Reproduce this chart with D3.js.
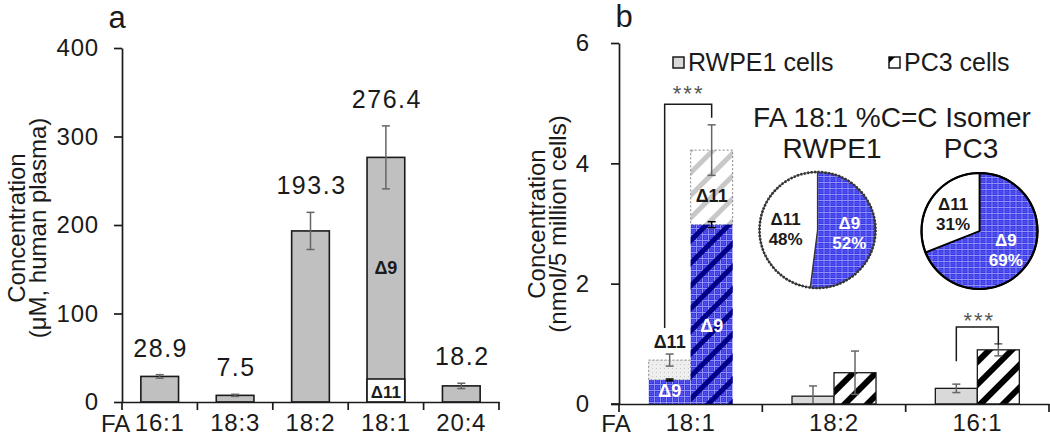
<!DOCTYPE html>
<html><head><meta charset="utf-8">
<script src="https://cdn.jsdelivr.net/npm/d3@7"></script>
<style>
body{margin:0;background:#fff;}
svg{display:block;font-family:"Liberation Sans",Arial,sans-serif;}
</style></head><body>
<svg id="chart" width="1050" height="437"></svg>
<script>
// ---------- data ----------
const plasmaCats = ["16:1", "18:3", "18:2", "18:1", "20:4"];
const plasmaValues = [28.9, 7.5, 193.3, 276.4, 18.2];
const plasmaErrors = [2.0, 1.2, 21.0, 35.6, 3.0];
const plasmaDelta11 = [0, 0, 0, 26, 0];
const plasmaTicks = [0, 100, 200, 300, 400];

const cellCats = ["18:1", "18:2", "16:1"];
const rwpe1Values = [0.73, 0.13, 0.26];
const rwpe1Errors = [0.10, 0.17, 0.07];
const pc3Values = [4.22, 0.52, 0.90];
const pc3Errors = [0.42, 0.36, 0.10];
const rwpe1Delta9 = [0.40, null, null];
const rwpe1Delta9Err = [0.015, null, null];
const pc3Delta9 = [2.98, null, null];
const pc3Delta9Err = [0.05, null, null];
const cellTicks = [0, 2, 4, 6];

const pieGroups = ["RWPE1", "PC3"];
const pieDelta9 = [52, 69];
const pieDelta11 = [48, 31];
const legendLabels = ["RWPE1 cells", "PC3 cells"];

// ---------- setup ----------
const svg = d3.select("#chart");
const ink = "#1a1a1a";
const errCol = "#666";
const defs = svg.append("defs");

function stripePattern(id, color, w, period) {
  const p = defs.append("pattern").attr("id", id).attr("patternUnits", "userSpaceOnUse")
    .attr("width", period).attr("height", period).attr("patternTransform", "rotate(45)");
  p.append("rect").attr("x", 0).attr("y", 0).attr("width", w).attr("height", period).attr("fill", color);
}
const bg = defs.append("pattern").attr("id", "blueGrid").attr("patternUnits", "userSpaceOnUse")
  .attr("width", 6).attr("height", 6);
bg.append("rect").attr("width", 6).attr("height", 6).attr("fill", "#3434e8");
bg.append("path").attr("d", "M0,0.5H6M0.5,0V6").attr("stroke", "#9090f6").attr("stroke-width", 1);
bg.append("circle").attr("cx", 3.5).attr("cy", 3.5).attr("r", 1.3).attr("fill", "none").attr("stroke", "#7070f0").attr("stroke-width", 0.7);
stripePattern("navyStripes", "#000088", 5, 16);
stripePattern("blackStripes", "#000", 6, 16);
stripePattern("greyStripes", "#c8c8c8", 5, 16);
const lg = defs.append("pattern").attr("id", "lightDots").attr("patternUnits", "userSpaceOnUse")
  .attr("width", 4).attr("height", 4);
lg.append("rect").attr("width", 4).attr("height", 4).attr("fill", "#eeeeee");
lg.append("rect").attr("width", 1).attr("height", 1).attr("fill", "#c8c8c8");

function styleAxis(g, fs) {
  g.select(".domain").attr("stroke", ink).attr("stroke-width", 1.7);
  g.selectAll(".tick line").attr("stroke", ink).attr("stroke-width", 1.7);
  g.selectAll(".tick text").attr("fill", ink).style("font-size", fs + "px").style("letter-spacing", "0.8px");
}
function errorBar(g, x, yTop, yBot, color, cap) {
  g.append("line").attr("x1", x).attr("x2", x).attr("y1", yTop).attr("y2", yBot).attr("stroke", color).attr("stroke-width", 1.5);
  g.append("line").attr("x1", x - cap).attr("x2", x + cap).attr("y1", yTop).attr("y2", yTop).attr("stroke", color).attr("stroke-width", 1.5);
  g.append("line").attr("x1", x - cap).attr("x2", x + cap).attr("y1", yBot).attr("y2", yBot).attr("stroke", color).attr("stroke-width", 1.5);
}

// ---------- panel a ----------
const xa = d3.scaleBand().domain(plasmaCats).range([122, 499]);
const ya = d3.scaleLinear().domain([0, 400]).range([402, 48]);
const ga = svg.append("g");
const bwA = xa.bandwidth() * 0.5;

ga.append("text").attr("x", 117).attr("y", 28).attr("text-anchor", "middle").style("font-size", "31px").attr("fill", ink).text("a");

plasmaCats.forEach((c, i) => {
  const cx = xa(c) + xa.bandwidth() / 2;
  const x0 = cx - bwA / 2;
  ga.append("rect").attr("x", x0).attr("y", ya(plasmaValues[i])).attr("width", bwA)
    .attr("height", ya(0) - ya(plasmaValues[i])).attr("fill", "#c0c0c0").attr("stroke", ink).attr("stroke-width", 1.6);
  if (plasmaDelta11[i] > 0) {
    ga.append("rect").attr("x", x0).attr("y", ya(plasmaDelta11[i])).attr("width", bwA)
      .attr("height", ya(0) - ya(plasmaDelta11[i])).attr("fill", "#fff").attr("stroke", ink).attr("stroke-width", 1.6);
    ga.append("text").attr("x", cx).attr("y", ya(0) - 4).attr("text-anchor", "middle")
      .style("font-size", "17px").style("font-weight", "bold").attr("fill", ink).text("Δ11");
    ga.append("text").attr("x", cx).attr("y", ya((plasmaDelta11[i] + plasmaValues[i]) / 2) + 6).attr("text-anchor", "middle")
      .style("font-size", "18px").style("font-weight", "bold").attr("fill", ink).text("Δ9");
  }
  errorBar(ga, cx, ya(plasmaValues[i] + plasmaErrors[i]), ya(plasmaValues[i] - plasmaErrors[i]), errCol, 4);
  ga.append("text").attr("x", cx + 1).attr("y", ya(plasmaValues[i] + plasmaErrors[i]) - 18).attr("text-anchor", "middle")
    .style("font-size", "25px").style("letter-spacing", "1.5px").attr("fill", ink).text(plasmaValues[i].toFixed(1));
});

const yAxA = ga.append("g").attr("transform", "translate(122,0)")
  .call(d3.axisLeft(ya).tickValues(plasmaTicks).tickSize(8).tickSizeOuter(0).tickPadding(15));
styleAxis(yAxA, 24);
const xAxA = ga.append("g").attr("transform", "translate(0,402)")
  .call(d3.axisBottom(xa).tickSize(0).tickSizeOuter(0).tickPadding(12));
styleAxis(xAxA, 24);
plasmaCats.concat(["end"]).forEach((c, i) => {
  const x = i < plasmaCats.length ? xa(c) : xa.range()[1];
  ga.append("line").attr("x1", x).attr("x2", x).attr("y1", 402).attr("y2", 410).attr("stroke", ink).attr("stroke-width", 1.7);
});
ga.append("text").attr("x", 101).attr("y", 432).attr("text-anchor", "start").style("font-size", "24px").attr("fill", ink).text("FA");
ga.append("text").attr("transform", "translate(25,228) rotate(-90)").attr("text-anchor", "middle")
  .style("font-size", "24px").attr("fill", ink).text("Concentration");
ga.append("text").attr("transform", "translate(46,228) rotate(-90)").attr("text-anchor", "middle")
  .style("font-size", "24px").attr("fill", ink).text("(μM, human plasma)");

// ---------- panel b ----------
const xb = d3.scaleBand().domain(cellCats).range([619, 1049]);
const yb = d3.scaleLinear().domain([0, 6]).range([404, 43]);
const gb = svg.append("g");
const bwB = 42;

gb.append("text").attr("x", 624).attr("y", 27).attr("text-anchor", "middle").style("font-size", "31px").attr("fill", ink).text("b");

cellCats.forEach((c, i) => {
  const cx = xb(c) + xb.bandwidth() / 2;
  const xr = cx - bwB, xp = cx;
  const cr = xr + bwB / 2, cp = xp + bwB / 2;
  if (rwpe1Delta9[i] != null) {
    gb.append("rect").attr("x", xr).attr("y", yb(rwpe1Values[i])).attr("width", bwB)
      .attr("height", yb(rwpe1Delta9[i]) - yb(rwpe1Values[i])).attr("fill", "url(#lightDots)")
      .attr("stroke", "#888").attr("stroke-width", 1).attr("stroke-dasharray", "2,2");
    gb.append("rect").attr("x", xr).attr("y", yb(rwpe1Delta9[i])).attr("width", bwB)
      .attr("height", yb(0) - yb(rwpe1Delta9[i])).attr("fill", "url(#blueGrid)");
    gb.append("rect").attr("x", xp).attr("y", yb(pc3Values[i])).attr("width", bwB)
      .attr("height", yb(pc3Delta9[i]) - yb(pc3Values[i])).attr("fill", "#fff");
    gb.append("rect").attr("x", xp).attr("y", yb(pc3Values[i])).attr("width", bwB)
      .attr("height", yb(pc3Delta9[i]) - yb(pc3Values[i])).attr("fill", "url(#greyStripes)")
      .attr("stroke", "#888").attr("stroke-width", 1).attr("stroke-dasharray", "2,2");
    gb.append("rect").attr("x", xp).attr("y", yb(pc3Delta9[i])).attr("width", bwB)
      .attr("height", yb(0) - yb(pc3Delta9[i])).attr("fill", "url(#blueGrid)");
    gb.append("rect").attr("x", xp).attr("y", yb(pc3Delta9[i])).attr("width", bwB)
      .attr("height", yb(0) - yb(pc3Delta9[i])).attr("fill", "url(#navyStripes)");
    errorBar(gb, cr, yb(rwpe1Values[i] + rwpe1Errors[i]), yb(rwpe1Values[i] - rwpe1Errors[i]), errCol, 4);
    errorBar(gb, cp, yb(pc3Values[i] + pc3Errors[i]), yb(pc3Values[i] - pc3Errors[i]), errCol, 4);
    errorBar(gb, cr, yb(rwpe1Delta9[i] + rwpe1Delta9Err[i]), yb(rwpe1Delta9[i] - rwpe1Delta9Err[i]), "#000", 4);
    errorBar(gb, cp, yb(pc3Delta9[i] + pc3Delta9Err[i]), yb(pc3Delta9[i] - pc3Delta9Err[i]), "#000", 4);
    gb.append("text").attr("x", cr).attr("y", yb(0) - 7).attr("text-anchor", "middle")
      .style("font-size", "18px").style("font-weight", "bold").attr("fill", "#fff").text("Δ9");
    gb.append("text").attr("x", cr).attr("y", yb(rwpe1Values[i] + rwpe1Errors[i]) - 6).attr("text-anchor", "middle")
      .style("font-size", "18px").style("font-weight", "bold").attr("fill", ink).text("Δ11");
    gb.append("text").attr("x", cp).attr("y", yb(pc3Delta9[i] * 0.4)).attr("text-anchor", "middle")
      .style("font-size", "18px").style("font-weight", "bold").attr("fill", "#fff").text("Δ9");
    gb.append("text").attr("x", cp).attr("y", yb(pc3Delta9[i] + 0.3 * (pc3Values[i] - pc3Delta9[i]))).attr("text-anchor", "middle")
      .style("font-size", "18px").style("font-weight", "bold").attr("fill", ink).text("Δ11");
  } else {
    gb.append("rect").attr("x", xr).attr("y", yb(rwpe1Values[i])).attr("width", bwB)
      .attr("height", yb(0) - yb(rwpe1Values[i])).attr("fill", "#d9d9d9").attr("stroke", ink).attr("stroke-width", 1.3);
    gb.append("rect").attr("x", xp).attr("y", yb(pc3Values[i])).attr("width", bwB)
      .attr("height", yb(0) - yb(pc3Values[i])).attr("fill", "#fff");
    gb.append("rect").attr("x", xp).attr("y", yb(pc3Values[i])).attr("width", bwB)
      .attr("height", yb(0) - yb(pc3Values[i])).attr("fill", "url(#blackStripes)").attr("stroke", ink).attr("stroke-width", 1.3);
    errorBar(gb, cr, yb(rwpe1Values[i] + rwpe1Errors[i]), yb(Math.max(0, rwpe1Values[i] - rwpe1Errors[i])), errCol, 4);
    errorBar(gb, cp, yb(pc3Values[i] + pc3Errors[i]), yb(pc3Values[i] - pc3Errors[i]), errCol, 4);
  }
});

function bracket(x1, yl, x2, yr, yTop, sx, sy) {
  gb.append("path").attr("d", `M${x1},${yl}V${yTop}H${x2}V${yr}`).attr("fill", "none").attr("stroke", ink).attr("stroke-width", 1.5);
  gb.append("text").attr("x", sx).attr("y", sy).attr("text-anchor", "middle").style("font-size", "22px")
    .style("letter-spacing", "2px").attr("fill", "#555").text("***");
}
{
  const c0 = xb(cellCats[0]) + xb.bandwidth() / 2;
  bracket(c0 - bwB / 2 - 5, yb(rwpe1Values[0] + rwpe1Errors[0]) - 26, c0 + bwB / 2, yb(pc3Values[0] + pc3Errors[0]) - 7,
    yb(4.98), c0 - 2, yb(5.05) + 1);
  const c2 = xb(cellCats[2]) + xb.bandwidth() / 2;
  bracket(c2 - bwB / 2, yb(rwpe1Values[2] + rwpe1Errors[2]) - 23, c2 + bwB / 2, yb(pc3Values[2] + pc3Errors[2]) + 1,
    yb(1.28), c2 + 2, yb(1.33) + 4);
}

const yAxB = gb.append("g").attr("transform", "translate(619,0)")
  .call(d3.axisLeft(yb).tickValues(cellTicks).tickFormat(d3.format("d")).tickSize(8).tickSizeOuter(0).tickPadding(21));
styleAxis(yAxB, 24);
const xAxB = gb.append("g").attr("transform", "translate(0,404)")
  .call(d3.axisBottom(xb).tickSize(0).tickSizeOuter(0).tickPadding(10));
styleAxis(xAxB, 24);
gb.append("line").attr("x1", 611).attr("x2", 619).attr("y1", 404).attr("y2", 404).attr("stroke", ink).attr("stroke-width", 1.7);
cellCats.concat(["end"]).forEach((c, i) => {
  const x = i < cellCats.length ? xb(c) : xb.range()[1];
  gb.append("line").attr("x1", x).attr("x2", x).attr("y1", 404).attr("y2", 412).attr("stroke", ink).attr("stroke-width", 1.7);
});
gb.append("text").attr("x", 616).attr("y", 432).attr("text-anchor", "middle").style("font-size", "24px").attr("fill", ink).text("FA");
gb.append("text").attr("transform", "translate(545,224) rotate(-90)").attr("text-anchor", "middle")
  .style("font-size", "24px").attr("fill", ink).text("Concentration");
gb.append("text").attr("transform", "translate(566,224) rotate(-90)").attr("text-anchor", "middle")
  .style("font-size", "24px").attr("fill", ink).text("(nmol/5 million cells)");

const legX = [673, 889];
legendLabels.forEach((l, i) => {
  const g = gb.append("g").attr("transform", `translate(${legX[i]},57)`);
  g.append("rect").attr("width", 11).attr("height", 11).attr("fill", i === 0 ? "#d9d9d9" : "#fff")
    .attr("stroke", ink).attr("stroke-width", 1.5);
  if (i === 1) g.append("path").attr("d", "M0,0H6L0,6Z").attr("fill", "#000");
  g.append("text").attr("x", 15).attr("y", 14).style("font-size", "25px").attr("fill", ink).text(l);
});

gb.append("text").attr("x", 892).attr("y", 127).attr("text-anchor", "middle").style("font-size", "28px").attr("fill", ink).text("FA 18:1 %C=C Isomer");
const pieCx = [817.5, 979.5], pieCy = [230, 231], pieTitleX = [832, 971], R = 58;
const pie = d3.pie().sort(null).value(d => d.v);
const arc = d3.arc().innerRadius(0).outerRadius(R);
const labArc = d3.arc().innerRadius(0).outerRadius(R * 1.1);
pieGroups.forEach((name, i) => {
  const g = gb.append("g").attr("transform", `translate(${pieCx[i]},${pieCy[i]})`);
  const data = [{k: "Δ9", v: pieDelta9[i]}, {k: "Δ11", v: pieDelta11[i]}];
  const arcs = pie(data);
  g.selectAll("path.slice").data(arcs).join("path").attr("class", "slice")
    .attr("d", arc).attr("fill", d => d.data.k === "Δ9" ? "url(#blueGrid)" : "#fff")
    .attr("stroke", i === 0 ? "#333" : "#000").attr("stroke-width", i === 0 ? 1.2 : 1.8);
  g.append("circle").attr("r", R).attr("fill", "none").attr("stroke", i === 0 ? "#333" : "#000")
    .attr("stroke-width", i === 0 ? 2.6 : 2.2).attr("stroke-dasharray", i === 0 ? "2,1.5" : null);
  arcs.forEach(d => {
    const [lx, ly] = labArc.centroid(d);
    const col = d.data.k === "Δ9" ? "#fff" : ink;
    g.append("text").attr("x", lx).attr("y", ly - 3).attr("text-anchor", "middle")
      .style("font-size", "17px").style("font-weight", "bold").attr("fill", col).text(d.data.k);
    g.append("text").attr("x", lx).attr("y", ly + 17).attr("text-anchor", "middle")
      .style("font-size", "17px").style("font-weight", "bold").attr("fill", col).text(d.data.v + "%");
  });
  gb.append("text").attr("x", pieTitleX[i]).attr("y", 158).attr("text-anchor", "middle")
    .style("font-size", "28px").attr("fill", ink).text(name);
});
</script>
</body></html>
